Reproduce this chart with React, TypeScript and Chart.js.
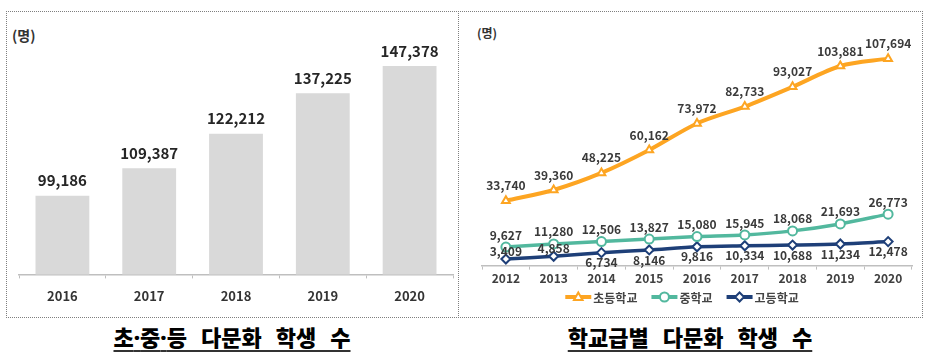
import React, { useEffect, useRef } from 'react';
import { Chart, registerables } from 'chart.js';
Chart.register(...registerables);

const barYears = ['2016', '2017', '2018', '2019', '2020'];
const barValues = [99186, 109387, 122212, 137225, 147378];

const lineYears = ['2012', '2013', '2014', '2015', '2016', '2017', '2018', '2019', '2020'];
const elementary = [33740, 39360, 48225, 60162, 73972, 82733, 93027, 103881, 107694];
const middle = [9627, 11280, 12506, 13827, 15080, 15945, 18068, 21693, 26773];
const high = [3409, 4858, 6734, 8146, 9816, 10334, 10688, 11234, 12478];
const seriesNames = ['초등학교', '중학교', '고등학교'];

const FONT = "'Noto Sans CJK KR', 'Noto Sans', sans-serif";
const ORANGE = '#FDA522';
const TEAL = '#52B89E';
const NAVY = '#1E3F78';

const fmt = (v: number) => v.toLocaleString('en-US');

function drawMarker(ctx: CanvasRenderingContext2D, style: string, x: number, y: number, r: number, color: string) {
  ctx.save();
  ctx.beginPath();
  if (style === 'triangle') {
    ctx.moveTo(x, y - r);
    ctx.lineTo(x + r * 0.95, y + r * 0.65);
    ctx.lineTo(x - r * 0.95, y + r * 0.65);
    ctx.closePath();
  } else if (style === 'circle') {
    ctx.arc(x, y, r, 0, Math.PI * 2);
  } else {
    ctx.moveTo(x, y - r);
    ctx.lineTo(x + r, y);
    ctx.lineTo(x, y + r);
    ctx.lineTo(x - r, y);
    ctx.closePath();
  }
  ctx.fillStyle = '#fff';
  ctx.fill();
  ctx.lineWidth = 2;
  ctx.strokeStyle = color;
  ctx.stroke();
  ctx.restore();
}

const valueLabels = {
  id: 'valueLabels',
  afterDatasetsDraw(chart: any) {
    const ctx = chart.ctx;
    chart.data.datasets.forEach((ds: any, di: number) => {
      const meta = chart.getDatasetMeta(di);
      const o = ds.labelOpts;
      if (!o) return;
      ctx.save();
      ctx.font = o.font;
      ctx.fillStyle = o.color;
      ctx.textAlign = 'center';
      ctx.textBaseline = 'middle';
      meta.data.forEach((el: any, i: number) => {
        const below = o.belowFrom !== undefined && i >= o.belowFrom;
        const y = below ? el.y + o.offsetBelow : el.y - o.offset;
        ctx.fillText(fmt(ds.data[i]), el.x, y);
      });
      ctx.restore();
    });
  },
};

const lineLegend = {
  id: 'lineLegend',
  afterDraw(chart: any) {
    const ctx = chart.ctx;
    const ds = chart.data.datasets;
    ctx.save();
    ctx.font = `bold 12px ${FONT}`;
    ctx.textBaseline = 'middle';
    ctx.textAlign = 'left';
    const lineLen = 26;
    const gapText = 2;
    const gapItem = 14;
    const widths = ds.map((d: any) => lineLen + gapText + ctx.measureText(d.label).width);
    const total = widths.reduce((a: number, b: number) => a + b, 0) + gapItem * (ds.length - 1);
    let x = 223 - total / 2;
    const y = 285;
    ds.forEach((d: any, i: number) => {
      ctx.beginPath();
      ctx.strokeStyle = d.borderColor;
      ctx.lineWidth = 4;
      ctx.moveTo(x, y);
      ctx.lineTo(x + lineLen, y);
      ctx.stroke();
      drawMarker(ctx, d.pointStyle, x + lineLen / 2, y, 4.5, d.borderColor);
      ctx.fillStyle = '#444';
      ctx.fillText(d.label, x + lineLen + gapText, y + 1);
      x += widths[i] + gapItem;
    });
    ctx.restore();
  },
};

function BarChart() {
  const ref = useRef<HTMLCanvasElement>(null);
  useEffect(() => {
    const chart = new Chart(ref.current!, {
      type: 'bar',
      data: {
        labels: barYears,
        datasets: [
          {
            data: barValues,
            backgroundColor: '#D9D9D9',
            categoryPercentage: 1,
            barPercentage: 0.62,
            labelOpts: { font: `bold 15px ${FONT}`, color: '#262626', offset: 15 },
          } as any,
        ],
      },
      options: {
        animation: false,
        responsive: false,
        devicePixelRatio: 1,
        layout: { padding: { left: 12, right: 5, top: 20, bottom: 3 } },
        plugins: { legend: { display: false }, tooltip: { enabled: false } },
        scales: {
          y: { display: false, min: 70000, max: 160000 },
          x: {
            grid: { drawOnChartArea: false, drawTicks: true, tickLength: 4, color: '#BFBFBF', offset: true },
            border: { display: true, color: '#BFBFBF', width: 1.5 },
            ticks: { font: { family: FONT, size: 13, weight: 'bold' }, color: '#333', padding: 10 },
          },
        },
      },
      plugins: [valueLabels],
    });
    return () => chart.destroy();
  }, []);
  return <canvas ref={ref} width={451} height={305} style={{ position: 'absolute', left: 7, top: 12 }} />;
}

function LineChart() {
  const ref = useRef<HTMLCanvasElement>(null);
  useEffect(() => {
    const common = {
      borderWidth: 4,
      pointRadius: 4.5,
      pointBorderWidth: 2,
      pointBackgroundColor: '#fff',
      tension: 0.3,
    };
    const chart = new Chart(ref.current!, {
      type: 'line',
      data: {
        labels: lineYears,
        datasets: [
          {
            ...common,
            label: seriesNames[0],
            data: elementary,
            borderColor: ORANGE,
            pointBorderColor: ORANGE,
            pointStyle: 'triangle',
            labelOpts: { font: `bold 12px ${FONT}`, color: '#3a3a3a', offset: 15 },
          } as any,
          {
            ...common,
            borderWidth: 3.5,
            label: seriesNames[1],
            data: middle,
            borderColor: TEAL,
            pointBorderColor: TEAL,
            pointStyle: 'circle',
            labelOpts: { font: `bold 12px ${FONT}`, color: '#3a3a3a', offset: 12 },
          } as any,
          {
            ...common,
            borderWidth: 3.5,
            label: seriesNames[2],
            data: high,
            borderColor: NAVY,
            pointBorderColor: NAVY,
            pointStyle: 'rectRot',
            labelOpts: { font: `bold 12px ${FONT}`, color: '#3a3a3a', offset: 8, offsetBelow: 10, belowFrom: 2 },
          } as any,
        ],
      },
      options: {
        animation: false,
        responsive: false,
        devicePixelRatio: 1,
        layout: { padding: { left: 23, right: 9, top: 23, bottom: 29 } },
        plugins: { legend: { display: false }, tooltip: { enabled: false } },
        scales: {
          y: { display: false, min: 0, max: 120000 },
          x: {
            offset: true,
            grid: { drawOnChartArea: false, drawTicks: true, tickLength: 4, color: '#BFBFBF', offset: true },
            border: { display: true, color: '#BFBFBF', width: 1.5 },
            ticks: { font: { family: FONT, size: 12, weight: 'bold' }, color: '#404040', padding: 2 },
          },
        },
      },
      plugins: [valueLabels, lineLegend],
    });
    return () => chart.destroy();
  }, []);
  return <canvas ref={ref} width={462} height={305} style={{ position: 'absolute', left: 459, top: 12 }} />;
}

export default function App() {
  const titleStyle: React.CSSProperties = {
    position: 'absolute',
    top: 322,
    fontFamily: FONT,
    fontWeight: 900,
    fontSize: 22,
    lineHeight: '28px',
    color: '#000',
    whiteSpace: 'nowrap',
    transform: 'translateX(-50%)',
    textDecoration: 'underline',
    textDecorationThickness: '2px',
    textUnderlineOffset: '4px',
    textDecorationColor: '#333',
    wordSpacing: 9,
  };
  const dot: React.CSSProperties = { fontFamily: "'Noto Sans', sans-serif" };
  const unitStyle: React.CSSProperties = {
    position: 'absolute',
    fontFamily: FONT,
    fontWeight: 700,
    color: '#333',
    whiteSpace: 'nowrap',
  };
  return (
    <div style={{ position: 'fixed', left: 0, top: 0, width: 931, height: 357, background: '#fff', overflow: 'hidden' }}>
      <div
        style={{
          position: 'absolute',
          left: 6,
          top: 11,
          width: 917,
          height: 307,
          border: '1px dotted #7f7f7f',
          boxSizing: 'border-box',
        }}
      />
      <div style={{ position: 'absolute', left: 458, top: 11, height: 307, borderLeft: '1px dotted #7f7f7f' }} />
      <div style={{ ...unitStyle, left: 12, top: 26, fontSize: 14, lineHeight: '18px' }}>(명)</div>
      <div style={{ ...unitStyle, left: 477, top: 25, fontSize: 12, lineHeight: '16px' }}>(명)</div>
      <BarChart />
      <LineChart />
      <div style={{ ...titleStyle, left: 232 }}>
        초<span style={dot}>·</span>중<span style={dot}>·</span>등 다문화 학생 수
      </div>
      <div style={{ ...titleStyle, left: 690 }}>학교급별 다문화 학생 수</div>
    </div>
  );
}
